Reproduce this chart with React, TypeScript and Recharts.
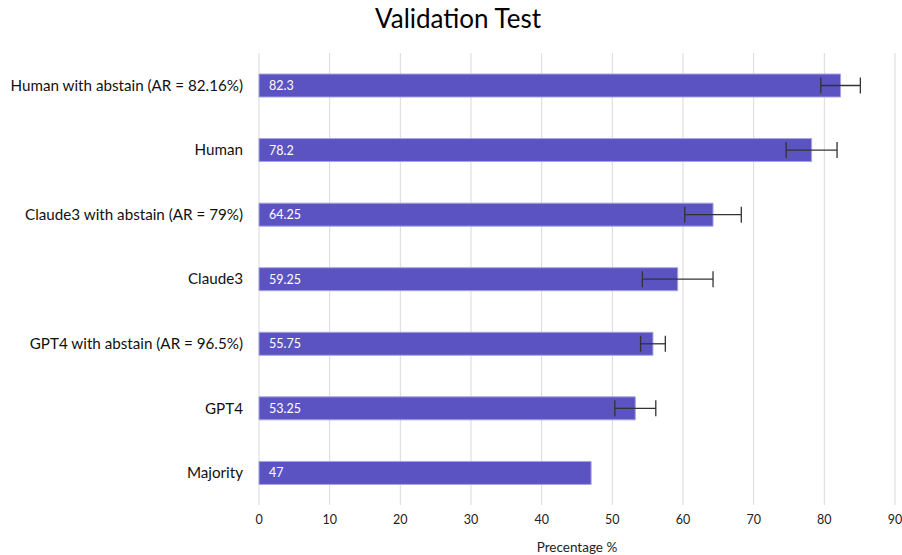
import { Bar, BarChart, CartesianGrid, ErrorBar, LabelList, XAxis, YAxis } from "recharts";

// top to bottom, as drawn
const models = [
  "Human with abstain (AR = 82.16%)",
  "Human",
  "Claude3 with abstain (AR = 79%)",
  "Claude3",
  "GPT4 with abstain (AR = 96.5%)",
  "GPT4",
  "Majority",
];
const accuracy = [82.3, 78.2, 64.25, 59.25, 55.75, 53.25, 47];
const spread = [2.8, 3.6, 4, 5, 1.75, 2.9, 0];
const xTicks = [0, 10, 20, 30, 40, 50, 60, 70, 80, 90];

const data = models.map((name, i) => ({
  name,
  value: accuracy[i],
  err: spread[i] || null,
}));

const FONT = "Lato, 'Open Sans', sans-serif";

export default function App() {
  return (
    <div style={{ position: "absolute", left: 0, top: 0, width: 902, height: 555, fontFamily: FONT }}>
      <div
        style={{
          position: "absolute",
          top: 2,
          left: 0,
          width: 916,
          textAlign: "center",
          fontSize: 26,
          color: "#000",
        }}
      >
        Validation Test
      </div>
      <BarChart
        width={902}
        height={555}
        data={data}
        layout="vertical"
        margin={{ top: 53, right: 7, bottom: 0, left: 0 }}
      >
        <CartesianGrid horizontal={false} stroke="#d9d9d9" />
        <XAxis
          type="number"
          domain={[0, 90]}
          ticks={xTicks}
          axisLine={false}
          tickLine={false}
          height={50}
          tickMargin={4}
          tick={{ fill: "#222", fontSize: 12.5 }}
          label={{ value: "Precentage %", position: "insideBottom", offset: 3, fill: "#222", fontSize: 13.5 }}
        />
        <YAxis
          type="category"
          dataKey="name"
          width={259}
          axisLine={false}
          tickLine={false}
          tickMargin={10}
          tick={{ fill: "#111", fontSize: 15.2 }}
        />
        <Bar
          dataKey="value"
          fill="#5b53c1"
          stroke="#a8a3e4"
          strokeWidth={1}
          barSize={23}
          isAnimationActive={false}
        >
          <LabelList dataKey="value" position="insideLeft" offset={10} fill="#fff" fontSize={12.5} />
          <ErrorBar dataKey="err" direction="x" width={8} stroke="#333" strokeWidth={1.3} />
        </Bar>
      </BarChart>
    </div>
  );
}
